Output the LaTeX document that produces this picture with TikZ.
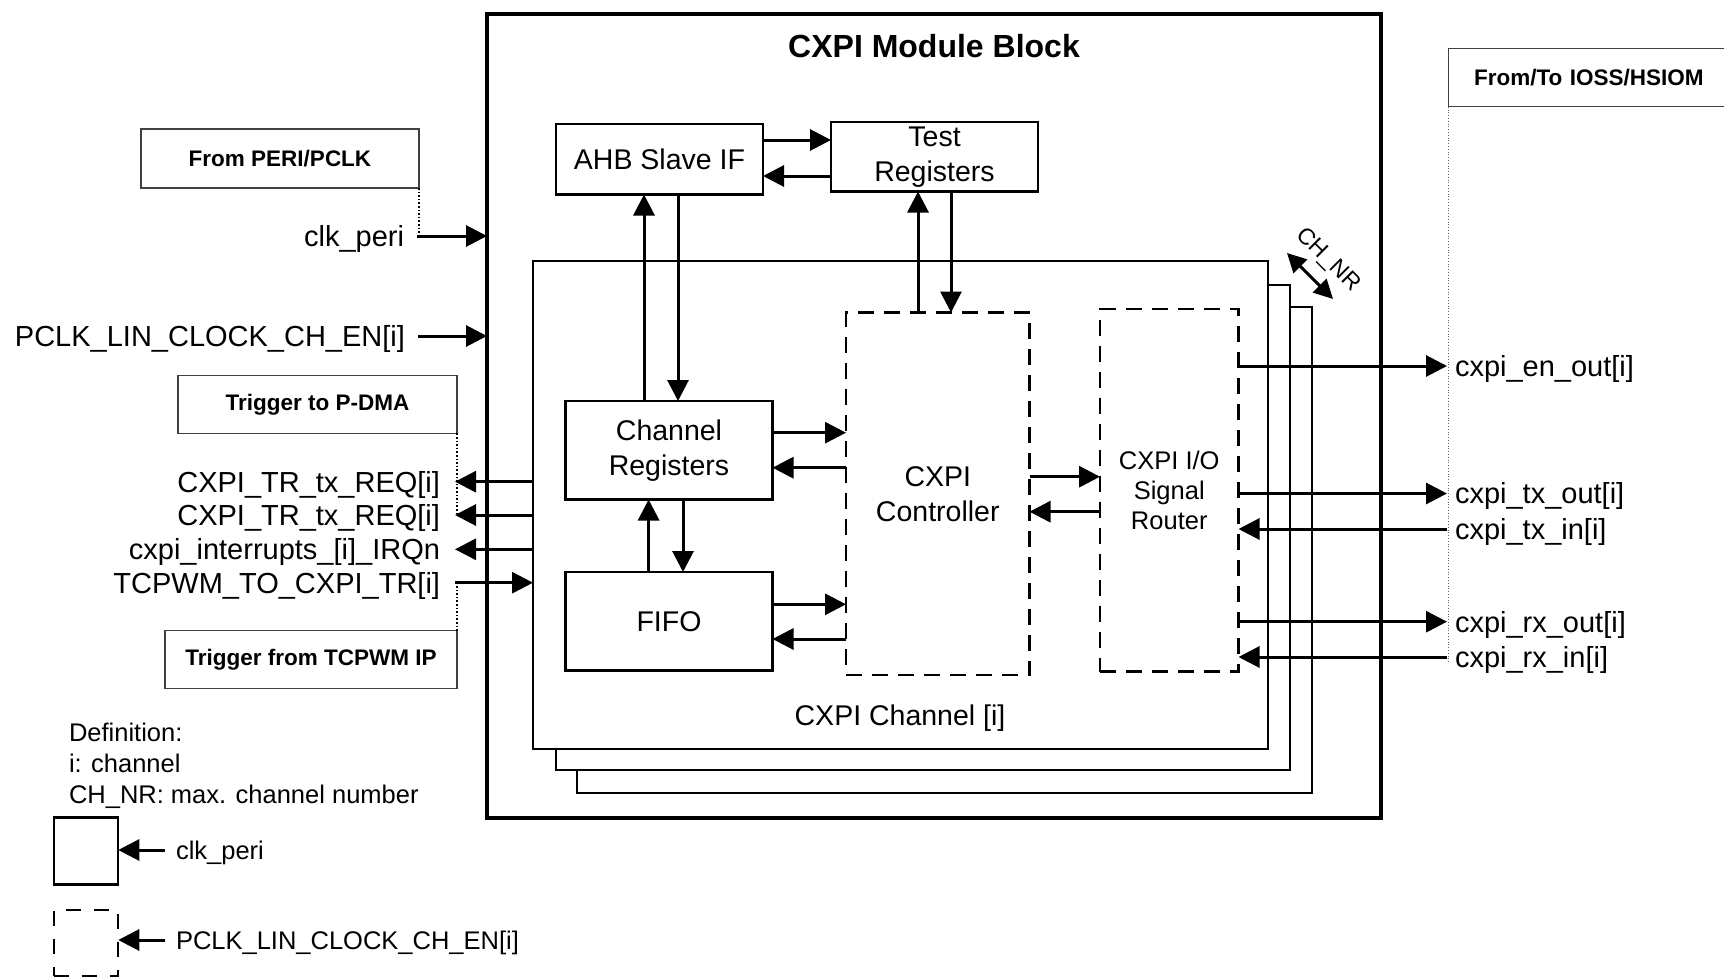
\documentclass[tikz,border=0pt]{standalone}
\usepackage{fontspec}
\setmainfont{Liberation Sans}
\usetikzlibrary{arrows.meta}
\begin{document}
\begin{tikzpicture}[x=1pt,y=-1pt,
  every node/.style={inner sep=0pt, outer sep=0pt},
  F/.style={font=\fontsize{28.5}{35}\selectfont},
  box/.style={draw, line width=2.2pt, F, align=center},
  dbox/.style={draw, line width=2.2pt, dash pattern=on 16pt off 10pt, align=center},
  chbox/.style={draw, line width=2.4pt, fill=white},
  annot/.style={draw=black!75, line width=1.3pt, font=\bfseries\fontsize{22.5}{27}\selectfont},
  sig/.style={font=\fontsize{29}{35}\selectfont, text height=20.8pt, text depth=0pt},
  leg/.style={font=\fontsize{25.5}{30}\selectfont, text height=18.3pt, text depth=0pt},
  arr/.style={line width=3pt, -{Triangle[length=21pt,width=21pt]}},
  dbl/.style={line width=3pt, {Triangle[length=19pt,width=19pt]}-{Triangle[length=19pt,width=19pt]}},
  dotl/.style={line width=1.6pt, dotted},
  thindot/.style={line width=0.8pt, black!60, dotted},
]
\useasboundingbox (0,0) rectangle (1724,977);

% main block
\node[draw, line width=4.5pt, minimum width=894pt, minimum height=804pt] (main) at (934,416) {};
\node[font=\bfseries\fontsize{32}{38}\selectfont] (title) at (934,46) {CXPI Module Block};

% channel stack
\node[chbox, minimum width=735pt, minimum height=486pt] (ch3) at (944.5,550) {};
\node[chbox, minimum width=734pt, minimum height=485pt] (ch2) at (923,527.5) {};
\node[chbox, minimum width=735pt, minimum height=488pt] (chan) at (900.5,505) {};
\node[F] (chlab) at (900,718) {CXPI Channel [i]};

% inner blocks
\node[box, minimum width=207pt, minimum height=70.5pt] (ahb) at (659.5,159.25) {AHB Slave IF};
\node[box, minimum width=207pt, minimum height=69.5pt] (test) at (934.5,156.75) {Test\\Registers};
\node[box, minimum width=207pt, minimum height=98.5pt] (chreg) at (669,450.25) {Channel\\Registers};
\node[box, minimum width=207pt, minimum height=98.5pt] (fifo) at (669,621.25) {FIFO};
\node[dbox, F, minimum width=183.5pt, minimum height=362.5pt] (ctrl) at (937.75,493.75) {CXPI\\Controller};
\node[dbox, font=\fontsize{25.5}{30}\selectfont, minimum width=138.5pt, minimum height=362.5pt] (router) at (1169.25,490.25) {CXPI I/O\\Signal\\Router};

% inner connectors
\draw[arr] (ahb.east |- 0,140) -- (test.west |- 0,140);
\draw[arr] (test.west |- 0,176) -- (ahb.east |- 0,176);
\draw[arr] (chreg.north -| 644,0) -- (ahb.south -| 644,0);
\draw[arr] (ahb.south -| 678,0) -- (chreg.north -| 678,0);
\draw[arr] (ctrl.north -| 918,0) -- (test.south -| 918,0);
\draw[arr] (test.south -| 951,0) -- (ctrl.north -| 951,0);
\draw[arr] (chreg.east |- 0,432.7) -- (ctrl.west |- 0,432.7);
\draw[arr] (ctrl.west |- 0,467.7) -- (chreg.east |- 0,467.7);
\draw[arr] (fifo.east |- 0,604.3) -- (ctrl.west |- 0,604.3);
\draw[arr] (ctrl.west |- 0,639) -- (fifo.east |- 0,639);
\draw[arr] (fifo.north -| 648.6,0) -- (chreg.south -| 648.6,0);
\draw[arr] (chreg.south -| 683,0) -- (fifo.north -| 683,0);
\draw[arr] (ctrl.east |- 0,476.7) -- (router.west |- 0,476.7);
\draw[arr] (router.west |- 0,511.7) -- (ctrl.east |- 0,511.7);

% CH_NR
\coordinate (chA) at (1287,253);
\coordinate (chB) at (1333,299);
\draw[dbl] (chA) -- (chB);
\node[rotate=-45, font=\fontsize{23}{27}\selectfont] (chnr) at (1328,260) {CH\_NR};

% left side annotation boxes
\node[annot, minimum width=278pt, minimum height=59pt] (peri) at (280,158.5) {From PERI/PCLK};
\node[annot, minimum width=279pt, minimum height=58pt] (pdma) at (317.5,404.3) {Trigger to P-DMA};
\node[annot, minimum width=292pt, minimum height=57.6pt] (tcpwm) at (311,659.5) {Trigger from TCPWM IP};

% left signals
\node[sig, anchor=east, inner xsep=13pt] (clk) at (417,236) {clk\_peri};
\node[sig, anchor=east, inner xsep=13pt] (pclk) at (418,336) {PCLK\_LIN\_CLOCK\_CH\_EN[i]};
\node[sig, anchor=east, inner xsep=15pt] (tr1) at (455,481.7) {CXPI\_TR\_tx\_REQ[i]};
\node[sig, anchor=east, inner xsep=15pt] (tr2) at (455,515) {CXPI\_TR\_tx\_REQ[i]};
\node[sig, anchor=east, inner xsep=15pt] (irq) at (455,549.3) {cxpi\_interrupts\_[i]\_IRQn};
\node[sig, anchor=east, inner xsep=15pt] (tcp) at (455,582.7) {TCPWM\_TO\_CXPI\_TR[i]};

\draw[arr] (clk.east) -- (clk.east -| main.west);
\draw[arr] (pclk.east) -- (pclk.east -| main.west);
\draw[arr] (tr1.east -| chan.west) -- (tr1.east);
\draw[arr] (tr2.east -| chan.west) -- (tr2.east);
\draw[arr] (irq.east -| chan.west) -- (irq.east);
\draw[arr] (tcp.east) -- (tcp.east -| chan.west);

\draw[dotl] (peri.south east) -- (peri.south east |- clk.east) -- (clk.east);
\draw[dotl] (pdma.south east) -- (pdma.south east |- tr2.east);
\draw[dotl] (tcpwm.north east) -- (tcpwm.north east |- tcp.east);

% right side
\node[annot, anchor=west, text width=285pt, align=left, inner xsep=25.3pt, minimum height=58.4pt] (ioss) at (1448.7,77.5) {From/To IOSS/HSIOM};
\coordinate (dotend) at (1448.7,662);
\draw[thindot] (ioss.south west) -- (dotend);

\node[sig, anchor=west, inner xsep=8pt] (en) at (1447,366) {cxpi\_en\_out[i]};
\node[sig, anchor=west, inner xsep=8pt] (txo) at (1447,493.5) {cxpi\_tx\_out[i]};
\node[sig, anchor=west, inner xsep=8pt] (txi) at (1447,529) {cxpi\_tx\_in[i]};
\node[sig, anchor=west, inner xsep=8pt] (rxo) at (1447,621.7) {cxpi\_rx\_out[i]};
\node[sig, anchor=west, inner xsep=8pt] (rxi) at (1447,657) {cxpi\_rx\_in[i]};

\draw[arr] (en.west -| router.east) -- (en.west);
\draw[arr] (txo.west -| router.east) -- (txo.west);
\draw[arr] (txi.west) -- (txi.west -| router.east);
\draw[arr] (rxo.west -| router.east) -- (rxo.west);
\draw[arr] (rxi.west) -- (rxi.west -| router.east);

% legend
\node[leg, anchor=west] (def1) at (69,732) {Definition:};
\node[leg, anchor=west] (def2) at (69,763) {i: channel};
\node[leg, anchor=west] (def3) at (69,794) {CH\_NR: max. channel number};
\node[draw, line width=2.2pt, minimum width=64.5pt, minimum height=67pt] (lb1) at (86,851) {};
\node[draw, line width=2.2pt, dash pattern=on 15pt off 13pt, minimum width=64.5pt, minimum height=66pt] (lb2) at (86,943) {};
\node[leg, anchor=west, inner xsep=11.4pt] (lclk) at (164.6,850) {clk\_peri};
\node[leg, anchor=west, inner xsep=11.4pt] (lpclk) at (164.6,940) {PCLK\_LIN\_CLOCK\_CH\_EN[i]};
\draw[arr] (lclk.west) -- (lclk.west -| lb1.east);
\draw[arr] (lpclk.west) -- (lpclk.west -| lb2.east);
\end{tikzpicture}
\end{document}
